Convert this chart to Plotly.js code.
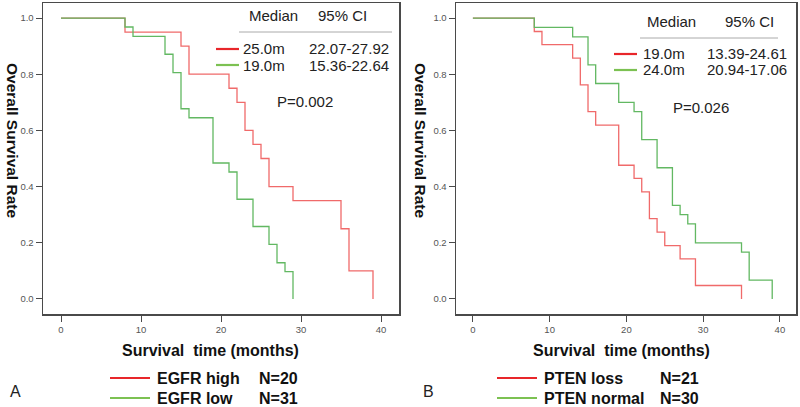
<!DOCTYPE html>
<html>
<head>
<meta charset="utf-8">
<script src="https://cdn.plot.ly/plotly-3.0.1.min.js"></script>
<style>html,body{margin:0;padding:0;background:#fff;}#chart{width:800px;height:407px;}</style>
</head>
<body>
<div id="chart"></div>
<script>
// Panel A: EGFR
const egfrHighT = [0, 8, 15, 16, 21, 22, 23, 24, 25, 26, 29, 35, 36, 39];
const egfrHighS = [1, 0.95, 0.90, 0.80, 0.75, 0.70, 0.60, 0.55, 0.50, 0.40, 0.35, 0.25, 0.10, 0.0];
const egfrLowT = [0, 8, 9, 13, 14, 15, 16, 19, 21, 22, 24, 26, 27, 28, 29];
const egfrLowS = [1, 0.968, 0.935, 0.871, 0.806, 0.677, 0.645, 0.484, 0.452, 0.355, 0.258, 0.194, 0.129, 0.097, 0];
// Panel B: PTEN
const ptenLossT = [0, 8, 9, 13, 14, 15, 16, 19, 21, 22, 23, 24, 25, 27, 29, 35];
const ptenLossS = [1, 0.952, 0.905, 0.857, 0.762, 0.667, 0.619, 0.476, 0.429, 0.381, 0.286, 0.238, 0.190, 0.143, 0.048, 0];
const ptenNormT = [0, 8, 13, 15, 16, 19, 21, 22, 24, 26, 27, 28, 29, 35, 36, 39];
const ptenNormS = [1, 0.967, 0.933, 0.833, 0.767, 0.700, 0.667, 0.567, 0.467, 0.333, 0.300, 0.267, 0.200, 0.167, 0.067, 0];

const xTicks = [0, 10, 20, 30, 40];
const yTicks = [0, 0.2, 0.4, 0.6, 0.8, 1.0];

const groupsA = ["EGFR high", "EGFR low"];
const nA = ["N=20", "N=31"];
const mediansA = ["25.0m", "19.0m"];
const ciA = ["22.07-27.92", "15.36-22.64"];
const pA = "P=0.002";

const groupsB = ["PTEN loss", "PTEN normal"];
const nB = ["N=21", "N=30"];
const mediansB = ["19.0m", "24.0m"];
const ciB = ["13.39-24.61", "20.94-17.06"];
const pB = "P=0.026";

const RED = '#f06a6a', GREEN = '#62b862';
const RED_L = '#e8262a', GREEN_L = '#7cc152';
const W = 800, H = 407;
const px = x => x / W, py = y => 1 - y / H;
const FONT = 'Arial, "Liberation Sans", sans-serif';

const traces = [
  {x: egfrHighT, y: egfrHighS, xaxis: 'x', yaxis: 'y', mode: 'lines', line: {shape: 'hv', color: RED, width: 1.3}},
  {x: egfrLowT, y: egfrLowS, xaxis: 'x', yaxis: 'y', mode: 'lines', line: {shape: 'hv', color: GREEN, width: 1.3}},
  {x: ptenLossT, y: ptenLossS, xaxis: 'x2', yaxis: 'y2', mode: 'lines', line: {shape: 'hv', color: RED, width: 1.3}},
  {x: ptenNormT, y: ptenNormS, xaxis: 'x2', yaxis: 'y2', mode: 'lines', line: {shape: 'hv', color: GREEN, width: 1.3}}
];

const axBase = {
  showgrid: false, zeroline: false, showline: true, mirror: true,
  linecolor: '#4a4a4a', linewidth: 1.5, ticks: 'outside', ticklen: 6,
  tickcolor: '#4a4a4a', tickwidth: 1, tickfont: {family: FONT, size: 9.5, color: '#555'}
};
const yDom = [1 - 314 / H, 1 - 3 / H];
const layout = {
  width: W, height: H, margin: {l: 0, r: 0, t: 0, b: 0},
  paper_bgcolor: '#fff', plot_bgcolor: '#fff', showlegend: false,
  xaxis: Object.assign({}, axBase, {domain: [px(43), px(399)], range: [-2.25, 42.25], tickvals: xTicks, anchor: 'y'}),
  yaxis: Object.assign({}, axBase, {domain: yDom, range: [-0.0535, 1.0535], tickvals: yTicks, tickformat: '.1f', anchor: 'x'}),
  xaxis2: Object.assign({}, axBase, {domain: [px(456), px(796)], range: [-2.2, 42.1], tickvals: xTicks, anchor: 'y2'}),
  yaxis2: Object.assign({}, axBase, {domain: yDom, range: [-0.0535, 1.0535], tickvals: yTicks, tickformat: '.1f', anchor: 'x2'}),
  annotations: [], shapes: []
};

function txt(x, y, text, opts) {
  layout.annotations.push(Object.assign({
    xref: 'paper', yref: 'paper', x: px(x), y: py(y), text: text, showarrow: false,
    xanchor: 'left', yanchor: 'middle', font: {family: FONT, size: 15, color: '#222'}
  }, opts || {}));
}
function seg(x0, x1, y, color, width) {
  layout.shapes.push({type: 'line', xref: 'paper', yref: 'paper', x0: px(x0), x1: px(x1), y0: py(y), y1: py(y),
    line: {color: color, width: width}});
}

function panel(o) {
  // table inside plot
  txt(o.medX, o.hdrY, 'Median', {xanchor: 'center'});
  txt(o.ciX, o.hdrY, '95% CI', {xanchor: 'center'});
  seg(o.ruleX0, o.ruleX1, o.hdrY + 17, '#aaa', 1);
  seg(o.swX0, o.swX1, o.row1Y, RED_L, 2.2);
  seg(o.swX0, o.swX1, o.row1Y + 16, GREEN_L, 2.2);
  txt(o.mTxtX, o.row1Y, o.medians[0]);
  txt(o.mTxtX, o.row1Y + 16, o.medians[1]);
  txt(o.cTxtX, o.row1Y, o.ci[0]);
  txt(o.cTxtX, o.row1Y + 16, o.ci[1]);
  txt(o.pX, o.pY, o.p, {xanchor: 'center'});
  // axis titles
  txt(o.xtX, 350, '<b>Survival  time (months)</b>', {xanchor: 'center', font: {family: FONT, size: 16, color: '#111'}});
  txt(o.ytX, 140, '<b>Overall Survival Rate</b>', {xanchor: 'center', textangle: 90, font: {family: FONT, size: 15.5, color: '#111'}});
  // bottom legend
  seg(o.lgX0, o.lgX1, 378, RED_L, 2.2);
  seg(o.lgX0, o.lgX1, 398, GREEN_L, 2.2);
  txt(o.lgX1 + 5, 378, '<b>' + o.groups[0] + '</b>', {font: {family: FONT, size: 16, color: '#111'}});
  txt(o.lgX1 + 5, 398, '<b>' + o.groups[1] + '</b>', {font: {family: FONT, size: 16, color: '#111'}});
  txt(o.nX, 378, '<b>' + o.n[0] + '</b>', {font: {family: FONT, size: 16, color: '#111'}});
  txt(o.nX, 398, '<b>' + o.n[1] + '</b>', {font: {family: FONT, size: 16, color: '#111'}});
  txt(o.lblX, 391, o.label, {font: {family: FONT, size: 16, color: '#222'}});
}

panel({medX: 273, ciX: 342, hdrY: 15, ruleX0: 239, ruleX1: 392, swX0: 216, swX1: 239, row1Y: 49,
  mTxtX: 241, cTxtX: 307, medians: mediansA, ci: ciA, p: pA, pX: 305, pY: 101,
  xtX: 210, ytX: 12, lgX0: 110, lgX1: 150, groups: groupsA, n: nA, nX: 257, lblX: 8, label: 'A'});
panel({medX: 671, ciX: 749, hdrY: 21, ruleX0: 640, ruleX1: 778, swX0: 614, swX1: 637, row1Y: 54,
  mTxtX: 641, cTxtX: 705, medians: mediansB, ci: ciB, p: pB, pX: 701, pY: 108,
  xtX: 621, ytX: 420, lgX0: 497, lgX1: 537, groups: groupsB, n: nB, nX: 658, lblX: 421, label: 'B'});

Plotly.newPlot('chart', traces, layout, {staticPlot: true, displayModeBar: false});
</script>
</body>
</html>
